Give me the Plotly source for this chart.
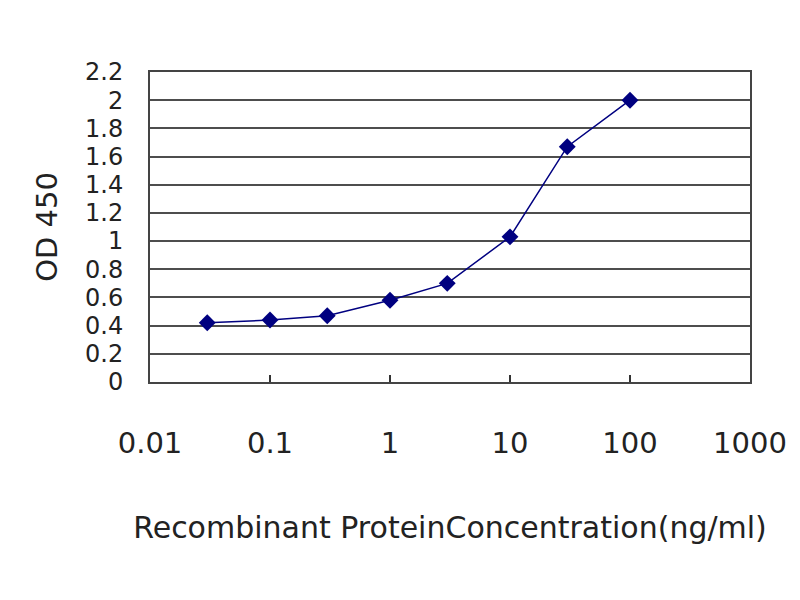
import plotly.graph_objects as go

# concentração (ng/ml) e leitura OD 450
concentration = [0.03, 0.1, 0.3, 1, 3, 10, 30, 100]
od450 = [0.42, 0.44, 0.47, 0.58, 0.70, 1.03, 1.67, 2.00]

x_ticks = [0.01, 0.1, 1, 10, 100, 1000]
x_tick_labels = ["0.01", "0.1", "1", "10", "100", "1000"]
y_ticks = [0, 0.2, 0.4, 0.6, 0.8, 1, 1.2, 1.4, 1.6, 1.8, 2, 2.2]
y_tick_labels = ["0", "0.2", "0.4", "0.6", "0.8", "1", "1.2", "1.4", "1.6", "1.8", "2", "2.2"]

navy = "#000080"
font_name = "DejaVu Sans, sans-serif"

fig = go.Figure()
fig.add_trace(go.Scatter(
    x=concentration,
    y=od450,
    mode="lines+markers",
    line=dict(color=navy, width=1.5),
    marker=dict(symbol="diamond", size=13, color=navy),
    showlegend=False,
))

# a página tem 8px de margem no body, por isso as margens são compensadas
fig.update_layout(
    width=800,
    height=600,
    margin=dict(l=142, r=58, t=64, b=226),
    paper_bgcolor="white",
    plot_bgcolor="white",
    font=dict(family=font_name, color="#222222"),
)

fig.update_xaxes(
    type="log",
    range=[-2, 3],
    automargin=False,
    tickvals=x_ticks,
    ticktext=x_tick_labels,
    tickfont=dict(size=29, color="#222222"),
    ticks="inside",
    ticklen=7,
    tickwidth=2,
    tickcolor="#333333",
    ticklabelstandoff=34,
    showgrid=False,
    zeroline=False,
    showline=True,
    linecolor="#444444",
    linewidth=2,
    mirror=True,
    title=dict(
        text="Recombinant ProteinConcentration(ng/ml)",
        font=dict(size=30, color="#222222"),
        standoff=58,
    ),
)

fig.update_yaxes(
    range=[0, 2.2],
    automargin=False,
    tickvals=y_ticks,
    ticktext=y_tick_labels,
    tickfont=dict(size=24, color="#222222"),
    ticks="",
    ticklabelstandoff=20,
    showgrid=True,
    gridcolor="#4d4d4d",
    gridwidth=2,
    zeroline=False,
    showline=True,
    linecolor="#444444",
    linewidth=2,
    mirror=True,
    title=dict(
        text="OD 450",
        font=dict(size=29, color="#222222"),
        standoff=19,
    ),
)

fig.write_html("out.html")
